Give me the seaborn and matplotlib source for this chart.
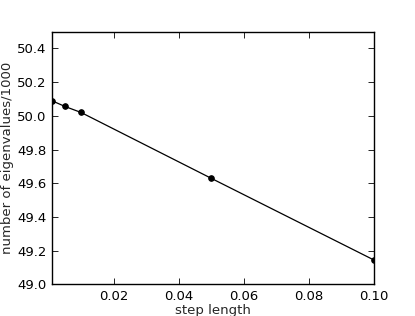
import matplotlib
matplotlib.use('Agg')
import matplotlib.pyplot as plt
import pandas as pd
import seaborn as sns

step_length = [0.001, 0.005, 0.01, 0.05, 0.1]
eigenvalues = [50.09, 50.056, 50.02, 49.63, 49.146]

sns.set_style('ticks')
plt.rcParams['font.family'] = ['DejaVu Sans']

df = pd.DataFrame({'step length': step_length, 'eig': eigenvalues})

fig = plt.figure(figsize=(4.15, 3.16), dpi=100)
ax = fig.add_axes([0.125, 0.1, 0.775, 0.8])
sns.lineplot(data=df, x='step length', y='eig', color='k', linewidth=0.9,
             marker='o', markersize=4, markeredgecolor='k', ax=ax, clip_on=True)

ax.set_xlim(0.001, 0.1)
ax.set_ylim(49.0, 50.5)
ax.set_xticks([0.02, 0.04, 0.06, 0.08, 0.10])
ax.set_xticklabels(['0.02', '0.04', '0.06', '0.08', '0.10'])
ax.set_yticks([49.0, 49.2, 49.4, 49.6, 49.8, 50.0, 50.2, 50.4])
ax.set_yticklabels(['49.0', '49.2', '49.4', '49.6', '49.8', '50.0', '50.2', '50.4'])
ax.tick_params(direction='in', top=True, right=True, length=4, width=0.6,
               labelsize=9.5, pad=4, colors='k')
for s in ax.spines.values():
    s.set_linewidth(1.0)
    s.set_color('k')
ax.set_xlabel('step length', fontsize=9.5, labelpad=1)
ax.set_ylabel('number of eigenvalues/1000', fontsize=9.5, labelpad=2)

fig.savefig('out.png', dpi=100)
